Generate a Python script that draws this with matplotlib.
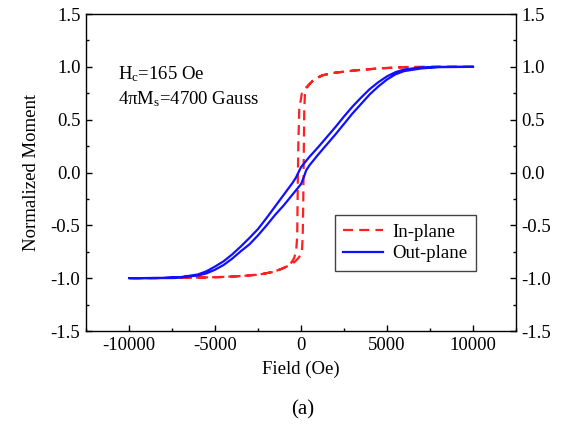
import numpy as np
import matplotlib
matplotlib.use("Agg")
import matplotlib.pyplot as plt
from matplotlib.ticker import MultipleLocator, FormatStrFormatter

plt.rcParams['font.family'] = ['Liberation Serif', 'DejaVu Serif']
plt.rcParams['mathtext.default'] = 'regular'
plt.rcParams['axes.unicode_minus'] = False

# ---------------- data ----------------
# In-plane loop: descending branch (+10000 -> -10000)
inplane_desc_H = [10000, 8000, 6090, 4500, 3180, 2000, 1240, 1000, 700, 450, 200, 50,
                  -100, -150, -180, -200, -220, -280, -400, -550, -700, -1100, -1600,
                  -2400, -3500, -4800, -7000, -10000]
inplane_desc_M = [1.0, 1.0, 0.998, 0.985, 0.967, 0.945, 0.92, 0.90, 0.87, 0.83, 0.79, 0.75,
                  0.6, 0.3, 0.0, -0.3, -0.6, -0.74, -0.81, -0.85, -0.88, -0.91, -0.94,
                  -0.965, -0.98, -0.99, -0.998, -1.0]
# In-plane loop: ascending branch (-10000 -> +10000)
inplane_asc_H = [-10000, -7000, -4800, -3500, -2400, -1600, -1100, -700, -400, -150, 50,
                 100, 130, 150, 170, 190, 230, 350, 465, 700, 1000, 1240, 2000, 3180,
                 4500, 6090, 8000, 10000]
inplane_asc_M = [-1.0, -0.998, -0.99, -0.98, -0.965, -0.94, -0.91, -0.88, -0.85, -0.81, -0.76,
                 -0.6, -0.3, 0.0, 0.3, 0.6, 0.74, 0.80, 0.83, 0.87, 0.90, 0.92, 0.945, 0.967,
                 0.985, 0.998, 1.0, 1.0]

# Out-plane loop: descending branch
outplane_desc_H = [10000, 8000, 7000, 6000, 5500, 5000, 4500, 4000, 3500, 3000, 2500, 2000,
                   1500, 1000, 500, 0, -150, -300, -500, -1000, -1500, -2000, -2500, -3000,
                   -3500, -4000, -4500, -5000, -5500, -6000, -7000, -8000, -10000]
outplane_desc_M = [1.0, 1.0, 0.995, 0.975, 0.95, 0.91, 0.855, 0.79, 0.71, 0.625, 0.53, 0.43,
                   0.335, 0.24, 0.15, 0.05, 0.0, -0.05, -0.10, -0.21, -0.32, -0.43, -0.535,
                   -0.62, -0.70, -0.775, -0.84, -0.89, -0.935, -0.965, -0.99, -0.998, -1.0]
# Out-plane loop: ascending branch
outplane_asc_H = [-10000, -8000, -7000, -6000, -5500, -5000, -4500, -4000, -3500, -3000,
                  -2500, -2000, -1500, -1000, -500, 0, 150, 300, 500, 1000, 1500, 2000,
                  2500, 3000, 3500, 4000, 4500, 5000, 5500, 6000, 7000, 8000, 10000]
outplane_asc_M = [-1.0, -0.998, -0.992, -0.975, -0.955, -0.92, -0.875, -0.815, -0.745, -0.68,
                  -0.595, -0.50, -0.40, -0.31, -0.21, -0.11, -0.05, 0.02, 0.07, 0.17, 0.265,
                  0.36, 0.46, 0.56, 0.65, 0.74, 0.815, 0.88, 0.93, 0.96, 0.985, 0.997, 1.0]

series_labels = ["In-plane", "Out-plane"]
x_ticks = [-10000, -5000, 0, 5000, 10000]
y_ticks = [-1.5, -1.0, -0.5, 0.0, 0.5, 1.0, 1.5]
annot_lines = [r"H$_{c}$=165 Oe", r"4πM$_{s}$=4700 Gauss"]

# ---------------- figure ----------------
fig = plt.figure(figsize=(5.67, 4.30), dpi=100)
ax = fig.add_axes([0.1517, 0.2302, 0.7583, 0.7372])

ax.plot(inplane_desc_H + inplane_asc_H, inplane_desc_M + inplane_asc_M,
        color='#ff2020', lw=1.6, dashes=(4.5, 2.8), label=series_labels[0])
ax.plot(outplane_desc_H + outplane_asc_H, outplane_desc_M + outplane_asc_M,
        color='#1010ff', lw=1.6, label=series_labels[1])

ax.set_xlim(-12500, 12500)
ax.set_ylim(-1.5, 1.5)
ax.set_xticks(x_ticks)
ax.set_yticks(y_ticks)
ax.xaxis.set_minor_locator(MultipleLocator(2500))
ax.yaxis.set_minor_locator(MultipleLocator(0.25))
ax.yaxis.set_major_formatter(FormatStrFormatter('%.1f'))

ax.tick_params(which='both', direction='in', top=False, right=True,
               labelright=True, labelsize=13.5, width=1.0)
ax.tick_params(which='major', length=4, pad=4)
ax.tick_params(which='minor', length=2.5)
for s in ax.spines.values():
    s.set_linewidth(1.0)

ax.set_xlabel("Field (Oe)", fontsize=13.5, labelpad=5)
ax.set_ylabel("Normalized Moment", fontsize=13.5, labelpad=8)

ax.text(0.075, 0.81, annot_lines[0], transform=ax.transAxes, fontsize=13.5, va='center')
ax.text(0.075, 0.73, annot_lines[1], transform=ax.transAxes, fontsize=13.5, va='center')

leg = ax.legend(loc='upper left', bbox_to_anchor=(0.579, 0.366), borderaxespad=0,
                fontsize=13.5, fancybox=False, edgecolor='#444444', framealpha=1,
                handlelength=2.1, handletextpad=0.5, labelspacing=0.25, borderpad=0.45)
leg.get_frame().set_linewidth(1.0)

fig.text(0.533, 1 - 410 / 430, "(a)", fontsize=15, ha='center', va='center')

fig.savefig("out.png", dpi=100)
